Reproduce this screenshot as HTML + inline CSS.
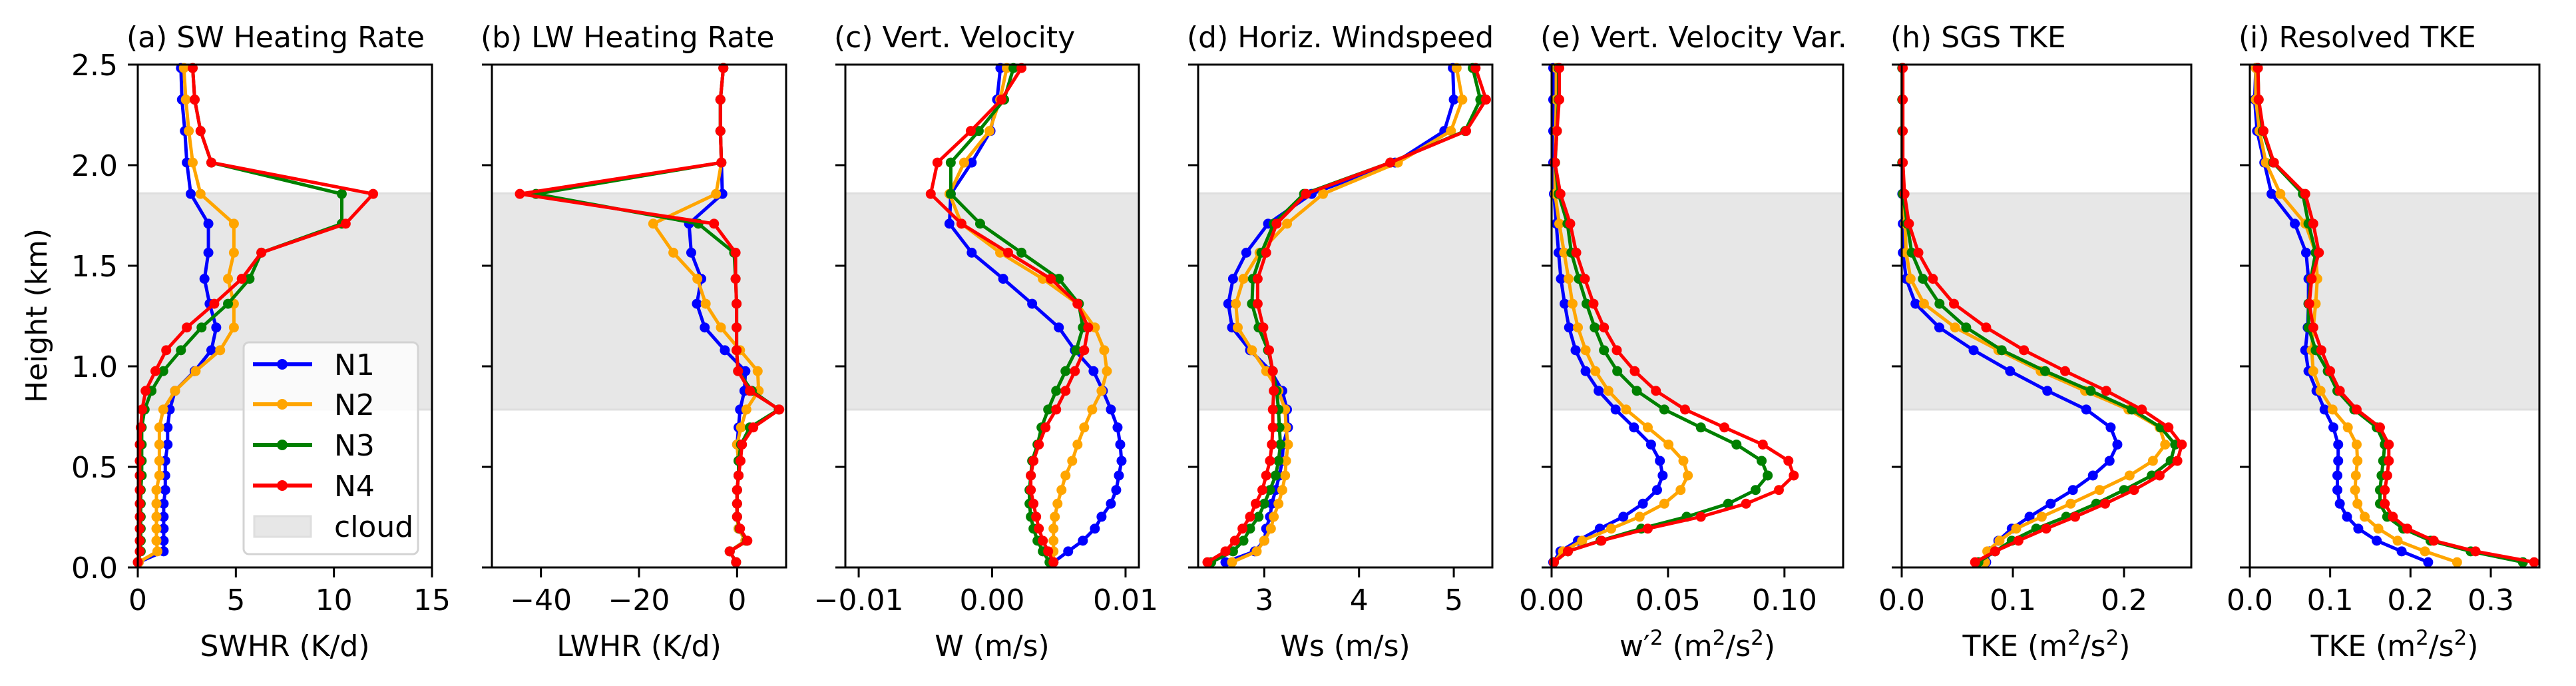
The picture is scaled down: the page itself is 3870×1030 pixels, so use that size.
<!DOCTYPE html>
<html><head><meta charset="utf-8"><style>
html,body{margin:0;padding:0;background:#fff;}
svg{display:block;font-family:"DejaVu Sans","Liberation Sans",sans-serif;}
</style></head><body>
<svg id="chart" width="3870" height="1030" viewBox="0 0 3870 1030" xmlns="http://www.w3.org/2000/svg"></svg>
<script>
// ---- shared heights (km) ----
const heights = [2.483,2.326,2.170,2.013,1.857,1.709,1.565,1.435,1.311,1.193,1.080,0.976,0.878,0.785,0.696,0.611,0.530,0.457,0.385,0.317,0.252,0.193,0.133,0.080,0.026];
const cloudBase = 0.785;
const cloudTop = 1.86;
const seriesNames = ["N1","N2","N3","N4"];

// (a) SWHR
const swhrN1 = [2.2,2.25,2.4,2.5,2.7,3.6,3.6,3.4,3.66,4.0,3.75,2.9,1.9,1.63,1.52,1.52,1.4,1.4,1.4,1.32,1.32,1.32,1.32,1.32,0.05];
const swhrN2 = [2.35,2.45,2.6,2.8,3.2,4.9,4.9,4.6,4.9,4.9,4.2,2.95,1.9,1.3,1.1,1.1,1.1,1.1,0.95,0.95,0.95,0.95,0.95,1.0,0.05];
const swhrN3 = [2.8,2.9,3.2,3.75,10.4,10.4,6.3,5.7,4.6,3.25,2.2,1.3,0.7,0.35,0.2,0.2,0.2,0.2,0.15,0.15,0.15,0.15,0.15,0.15,0.0];
const swhrN4 = [2.8,2.9,3.2,3.75,12.0,10.6,6.3,5.3,3.9,2.5,1.45,0.9,0.4,0.22,0.15,0.1,0.1,0.1,0.1,0.1,0.1,0.1,0.1,0.1,0.0];
// (b) LWHR
const lwhrN1 = [-2.8,-3.4,-3.4,-3.2,-3.0,-9.8,-9.35,-7.3,-8.2,-6.6,-2.5,1.7,1.5,0.6,0.3,0.0,0.3,0.3,0.0,0.0,0.0,0.3,1.7,-1.5,-0.2];
const lwhrN2 = [-2.8,-3.4,-3.4,-3.2,-4.3,-17.1,-13.0,-8.1,-6.4,-3.3,0.6,4.2,4.4,1.9,0.8,0.0,0.3,0.3,0.0,0.0,0.0,0.3,1.7,-1.5,-0.2];
const lwhrN3 = [-2.8,-3.4,-3.4,-3.2,-41.0,-7.9,-0.6,-0.3,-0.1,-0.1,-0.1,0.2,3.0,8.5,2.6,0.8,0.3,0.3,0.0,0.0,0.0,0.5,2.0,-1.5,-0.2];
const lwhrN4 = [-2.8,-3.4,-3.4,-3.2,-44.3,-4.7,-0.3,-0.3,-0.1,-0.1,-0.1,0.2,2.6,8.6,3.3,1.0,0.7,0.3,0.0,0.0,0.0,0.6,2.1,-1.5,-0.2];
// (c) W
const wN1 = [0.00062,0.00037,-0.00012,-0.00153,-0.0031,-0.0032,-0.00153,0.00083,0.003,0.005,0.0062,0.0076,0.0083,0.0089,0.0094,0.0096,0.0097,0.0095,0.0093,0.0089,0.0082,0.0077,0.0068,0.0057,0.0046];
const wN2 = [0.0011,0.0006,-0.0002,-0.0021,-0.0032,-0.0023,0.0006,0.0038,0.0064,0.0077,0.0084,0.0086,0.0082,0.0075,0.0069,0.0064,0.0060,0.0055,0.0052,0.0049,0.0047,0.0046,0.0046,0.0046,0.0046];
const wN3 = [0.0016,0.0009,-0.001,-0.0031,-0.0031,-0.0009,0.0022,0.005,0.0065,0.0068,0.0063,0.0055,0.0048,0.0042,0.0037,0.0034,0.003,0.0029,0.0028,0.0028,0.0029,0.0031,0.0034,0.0038,0.0043];
const wN4 = [0.0022,0.0007,-0.0016,-0.0041,-0.0046,-0.0023,0.0012,0.0044,0.0064,0.0072,0.0069,0.0062,0.0055,0.0048,0.004,0.0035,0.0031,0.0029,0.0029,0.0031,0.0033,0.0035,0.0038,0.0042,0.0046];
// (d) Ws
const wsN1 = [4.99,5.0,4.9,4.38,3.5,3.04,2.81,2.67,2.62,2.66,2.85,3.07,3.19,3.24,3.25,3.2,3.19,3.16,3.12,3.08,3.06,3.02,3.0,2.9,2.59];
const wsN2 = [5.03,5.09,4.97,4.41,3.62,3.24,2.95,2.78,2.7,2.72,2.87,3.02,3.15,3.22,3.23,3.25,3.23,3.22,3.19,3.15,3.1,3.07,3.0,2.92,2.66];
const wsN3 = [5.2,5.28,5.12,4.33,3.42,3.1,2.97,2.88,2.87,2.94,3.04,3.09,3.13,3.15,3.16,3.17,3.15,3.12,3.06,3.0,2.94,2.85,2.78,2.67,2.44];
const wsN4 = [5.23,5.34,5.13,4.33,3.44,3.13,3.02,2.93,2.93,2.99,3.05,3.09,3.1,3.09,3.09,3.08,3.06,3.02,2.98,2.91,2.85,2.77,2.69,2.59,2.4];
// (e) w'^2
const wvarN1 = [0.0007,0.0007,0.0007,0.0007,0.001,0.002,0.003,0.004,0.0056,0.0075,0.0103,0.0146,0.0202,0.0275,0.0354,0.0427,0.0465,0.0477,0.0453,0.0392,0.0308,0.0207,0.0113,0.0038,0.0007];
const wvarN2 = [0.002,0.002,0.0018,0.0015,0.0015,0.0033,0.0054,0.0073,0.009,0.0113,0.0146,0.0188,0.0244,0.032,0.0413,0.0502,0.0566,0.0585,0.0554,0.0484,0.0378,0.0256,0.0131,0.0049,0.001];
const wvarN3 = [0.003,0.003,0.0023,0.0015,0.003,0.0068,0.0085,0.0117,0.015,0.0185,0.0225,0.0282,0.0366,0.0484,0.0641,0.0794,0.0902,0.0928,0.0876,0.0758,0.058,0.0385,0.021,0.007,0.001];
const wvarN4 = [0.0033,0.0033,0.0023,0.0014,0.0038,0.008,0.0106,0.0143,0.018,0.0225,0.028,0.0357,0.0448,0.0573,0.0742,0.0907,0.1017,0.104,0.0976,0.0835,0.0641,0.0413,0.0214,0.007,0.001];
// (h) SGS TKE
const sgsN1 = [0.0005,0.0005,0.0005,0.0005,0.0005,0.001,0.001,0.004,0.0124,0.0338,0.0647,0.0975,0.131,0.166,0.188,0.194,0.187,0.172,0.154,0.134,0.115,0.099,0.087,0.079,0.076];
const sgsN2 = [0.0005,0.0005,0.0005,0.0005,0.001,0.003,0.004,0.008,0.02,0.048,0.087,0.125,0.165,0.204,0.232,0.237,0.226,0.205,0.178,0.152,0.126,0.103,0.088,0.077,0.075];
const sgsN3 = [0.0005,0.0005,0.0005,0.0005,0.001,0.005,0.009,0.019,0.034,0.058,0.09,0.129,0.17,0.207,0.233,0.246,0.242,0.225,0.2,0.175,0.148,0.121,0.099,0.084,0.069];
const sgsN4 = [0.001,0.001,0.001,0.001,0.0025,0.0065,0.015,0.028,0.047,0.076,0.11,0.147,0.184,0.216,0.24,0.252,0.248,0.232,0.209,0.183,0.156,0.13,0.105,0.084,0.066];
// (i) Resolved TKE
const resN1 = [0.0075,0.006,0.009,0.018,0.027,0.056,0.07,0.073,0.073,0.072,0.069,0.073,0.083,0.093,0.104,0.11,0.11,0.109,0.109,0.112,0.121,0.135,0.158,0.189,0.222];
const resN2 = [0.0075,0.0075,0.012,0.02,0.038,0.069,0.082,0.084,0.082,0.079,0.077,0.079,0.088,0.103,0.122,0.133,0.134,0.132,0.131,0.134,0.143,0.16,0.184,0.218,0.258];
const resN3 = [0.01,0.011,0.016,0.029,0.066,0.073,0.082,0.076,0.073,0.073,0.082,0.097,0.109,0.13,0.158,0.168,0.166,0.164,0.162,0.162,0.171,0.191,0.225,0.275,0.34];
const resN4 = [0.01,0.011,0.017,0.03,0.069,0.079,0.086,0.077,0.074,0.079,0.089,0.1,0.112,0.133,0.162,0.173,0.173,0.171,0.168,0.168,0.178,0.196,0.229,0.281,0.354];

const yTicks = [0,0.5,1.0,1.5,2.0,2.5];
const yTickLabels = ["0.0","0.5","1.0","1.5","2.0","2.5"];

const colors = ["#0000ff","#ffa500","#008000","#ff0000"];
const NS = "http://www.w3.org/2000/svg";
const svg = document.getElementById('chart');
const TOP = 97, BOT = 852;
function yScale(v){ return BOT - (v/2.5)*(BOT-TOP); }
function mk(tag, attrs, parent){
  const e = document.createElementNS(NS, tag);
  for (const k in attrs) e.setAttribute(k, attrs[k]);
  (parent||svg).appendChild(e);
  return e;
}

const panels = [
  {key:"swhr", title:"(a) SW Heating Rate", x0:207, x1:649, xmin:0, xmax:15, ticks:[0,5,10,15], labels:["0","5","10","15"], xlabel:"SWHR (K/d)", data:[swhrN1,swhrN2,swhrN3,swhrN4]},
  {key:"lwhr", title:"(b) LW Heating Rate", x0:739, x1:1181, xmin:-50, xmax:10, ticks:[-40,-20,0], labels:["\u221240","\u221220","0"], xlabel:"LWHR (K/d)", data:[lwhrN1,lwhrN2,lwhrN3,lwhrN4]},
  {key:"w", title:"(c) Vert. Velocity", x0:1270, x1:1711, xmin:-0.011, xmax:0.011, ticks:[-0.01,0,0.01], labels:["\u22120.01","0.00","0.01"], xlabel:"W (m/s)", data:[wN1,wN2,wN3,wN4]},
  {key:"ws", title:"(d) Horiz. Windspeed", x0:1800, x1:2242, xmin:2.302, xmax:5.407, ticks:[3,4,5], labels:["3","4","5"], xlabel:"Ws (m/s)", data:[wsN1,wsN2,wsN3,wsN4]},
  {key:"wvar", title:"(e) Vert. Velocity Var.", x0:2331, x1:2769, xmin:0, xmax:0.1252, ticks:[0,0.05,0.10], labels:["0.00","0.05","0.10"], xlabel:"wvar", data:[wvarN1,wvarN2,wvarN3,wvarN4]},
  {key:"sgs", title:"(h) SGS TKE", x0:2857, x1:3292, xmin:0, xmax:0.2605, ticks:[0,0.1,0.2], labels:["0.0","0.1","0.2"], xlabel:"tke", data:[sgsN1,sgsN2,sgsN3,sgsN4]},
  {key:"res", title:"(i) Resolved TKE", x0:3380, x1:3815, xmin:0, xmax:0.3605, ticks:[0,0.1,0.2,0.3], labels:["0.0","0.1","0.2","0.3"], xlabel:"tke", data:[resN1,resN2,resN3,resN4]}
];

function supLabel(g, cx, isW){
  const t = mk('text', {x:cx, y:985, 'text-anchor':'middle', 'font-size':44, fill:'#000'}, g);
  
  
  const parts = isW ? [["w\u2032",0],["2",1],[" (m",0],["2",1],["/s",0],["2",1],[")",0]]
                    : [["TKE (m",0],["2",1],["/s",0],["2",1],[")",0]];
  let up = false;
  parts.forEach(p=>{
    const s = document.createElementNS(NS,'tspan');
    s.textContent = p[0];
    if (p[1]) { s.setAttribute('font-size', 31); s.setAttribute('dy', up? 0 : -17); up = true; }
    else if (up) { s.setAttribute('dy', 17); up = false; }
    t.appendChild(s);
  });
}

panels.forEach((p, pi) => {
  const g = mk('g', {});
  
  
  const xs = v => p.x0 + (v - p.xmin)/(p.xmax - p.xmin)*(p.x1 - p.x0);
  const cx = (p.x0+p.x1)/2;
  const band = mk('rect', {x:p.x0, y:yScale(cloudTop), width:p.x1-p.x0, height:yScale(cloudBase)-yScale(cloudTop), fill:'#e7e7e7', stroke:'#dedede', 'stroke-width':3}, g);
  
  
  const cp = mk('clipPath', {id:'clip'+pi}, g);
  mk('rect', {x:p.x0-8, y:TOP-8, width:p.x1-p.x0+16, height:BOT-TOP+16}, cp);
  p.data.forEach((arr, si) => {
    const sg = mk('g', {'clip-path':'url(#clip'+pi+')'}, g);
    
    
    const pts = arr.map((v,i)=> xs(v).toFixed(1)+','+yScale(heights[i]).toFixed(1)).join(' ');
    const pl = mk('polyline', {points:pts, fill:'none', stroke:colors[si], 'stroke-width':5, 'stroke-linejoin':'round'}, sg);
    
    
    arr.forEach((v,i)=>{
      const c = mk('circle', {cx:xs(v), cy:yScale(heights[i]), r:7.5, fill:colors[si]}, sg);
      
      
    });
  });
  const fr = mk('rect', {x:p.x0, y:TOP, width:p.x1-p.x0, height:BOT-TOP, fill:'none', stroke:'#000', 'stroke-width':3}, g);
  
  
  p.ticks.forEach((t, ti) => {
    const x = xs(t);
    mk('line', {x1:x, x2:x, y1:BOT, y2:BOT+15, stroke:'#000', 'stroke-width':3}, g);
    const tl = mk('text', {x:x, y:916, 'text-anchor':'middle', 'font-size':44, fill:'#000'}, g);
    tl.textContent = p.labels[ti];
    
    
  });
  yTicks.forEach((t, ti) => {
    const y = yScale(t);
    mk('line', {x1:p.x0-15, x2:p.x0, y1:y, y2:y, stroke:'#000', 'stroke-width':3}, g);
    if (pi === 0) {
      const tl = mk('text', {x:177, y:y+16, 'text-anchor':'end', 'font-size':44, fill:'#000'}, g);
      tl.textContent = yTickLabels[ti];
      
      
    }
  });
  const tt = mk('text', {x:p.x0-17, y:71, 'text-anchor':'start', 'font-size':44, fill:'#000'}, g);
  tt.textContent = p.title;
  
  
  if (p.xlabel === 'wvar') supLabel(g, cx, true);
  else if (p.xlabel === 'tke') supLabel(g, cx, false);
  else {
    const xl = mk('text', {x:cx, y:985, 'text-anchor':'middle', 'font-size':44, fill:'#000'}, g);
    xl.textContent = p.xlabel;
    
    
  }
});

const yt = mk('text', {x:0, y:0, 'text-anchor':'middle', 'font-size':44, fill:'#000', transform:'translate(70,474) rotate(-90)'});
yt.textContent = 'Height (km)';



const lg = mk('g', {});


mk('rect', {x:366, y:514, width:262, height:318, rx:8, fill:'#ffffff', 'fill-opacity':0.8, stroke:'#d3d3d3', 'stroke-width':3}, lg);
const legY = [547,607,668,729];
seriesNames.forEach((n, i) => {
  const e = mk('g', {}, lg);
  
  
  mk('line', {x1:380, x2:469, y1:legY[i], y2:legY[i], stroke:colors[i], 'stroke-width':6}, e);
  mk('circle', {cx:424, cy:legY[i], r:8, fill:colors[i]}, e);
  const t = mk('text', {x:502, y:legY[i]+16, 'font-size':44, fill:'#000'}, e);
  t.textContent = n;
});
const ce = mk('g', {}, lg);


mk('rect', {x:382, y:775, width:85, height:31, fill:'#e7e7e7', stroke:'#dedede', 'stroke-width':3}, ce);
const ct = mk('text', {x:502, y:806, 'font-size':44, fill:'#000'}, ce);
ct.textContent = 'cloud';
</script>
</body></html>
